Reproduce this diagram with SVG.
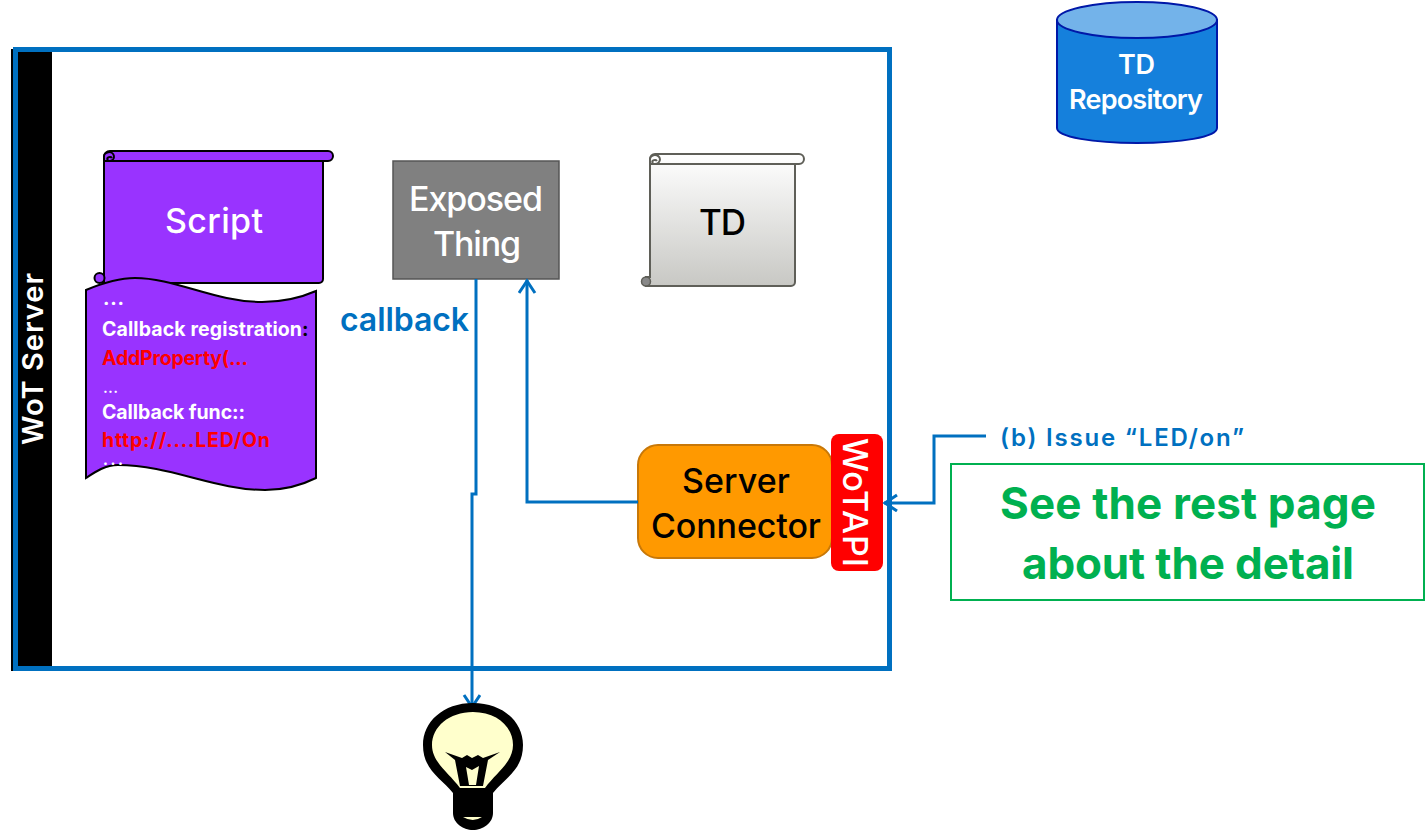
<svg xmlns="http://www.w3.org/2000/svg" width="1425" height="831" viewBox="0 0 1425 831">
<style>
text{font-family:Inter,"Noto Sans",sans-serif;font-weight:500}
.w{fill:#fff}.k{fill:#000}.b{fill:#0070c0}.r{fill:#f00}.g{fill:#00b050}
.s{font-size:19.500px;font-weight:700}
.conn{fill:none;stroke:#0070c0;stroke-width:3}
</style>
<defs>
<linearGradient id="td" x1="0" y1="0" x2="0" y2="1"><stop offset="0" stop-color="#fff"/><stop offset="1" stop-color="#c8c8c4"/></linearGradient>
<marker id="a" markerUnits="userSpaceOnUse" markerWidth="22" markerHeight="22" refX="16" refY="9" orient="auto"><path d="M3 1L15 9L3 17" fill="none" stroke="#0070c0" stroke-width="3"/></marker>
</defs>
<g id="server">
<rect x="11" y="49" width="41" height="622" fill="#000"/>
<rect x="15.500" y="49.500" width="874" height="619" fill="none" stroke="#0070c0" stroke-width="5"/>
<rect x="18" y="52" width="34" height="614" fill="#000"/>
<text class="w" transform="translate(43 445) rotate(-90)" font-size="29" style="font-weight:600" textLength="172">WoT Server</text>
</g>
<g id="repository">
<path d="M1057 20V128C1057 137 1093 143 1137 143S1217 137 1217 128V20Z" fill="#1580dc" stroke="#0018a8" stroke-width="2"/>
<ellipse cx="1137" cy="20" rx="80" ry="18" fill="#73b3ea" stroke="#0018a8" stroke-width="2"/>
<text class="w" x="1118" y="74" font-size="27" style="font-weight:600" textLength="37">TD</text>
<text class="w" x="1069" y="109" font-size="27" style="font-weight:600" textLength="134">Repository</text>
</g>
<g id="script">
<path d="M104 157a6 6 0 0 1 6-6H328a5 5 0 0 1 0 10H323V279a4 4 0 0 1-4 4H102H104Z" fill="#9933ff" stroke="#000" stroke-width="2"/>
<path d="M104 161H328" fill="none" stroke="#000" stroke-width="2"/>
<path d="M104 157a5 4.500 0 1 1 6 4a2.500 2 0 1 1 2-3" fill="#9933ff" stroke="#000" stroke-width="2"/>
<circle cx="99.500" cy="278" r="5" fill="#9933ff" stroke="#000" stroke-width="2"/>
<text class="w" x="165" y="233" font-size="34" textLength="98">Script</text>
</g>
<g id="script-code">
<path d="M86 290C105 282 120 278 135 278C175 278 215 302 262 302C285 302 300 298 316 291V478C300 486 285 490 265 490C215 490 170 465 118 465C105 465 95 472 86 478Z" fill="#9933ff" stroke="#000" stroke-width="2"/>
<text class="w s" x="103" y="305" textLength="21">...</text>
<text class="w s" x="102" y="336" textLength="200">Callback registration</text><text class="k s" x="302" y="336">:</text>
<text class="r s" x="102" y="365" textLength="146">AddProperty(...</text>
<text class="w" x="103" y="393" font-size="16" textLength="15">...</text>
<text class="w s" x="102" y="419" textLength="143">Callback func::</text>
<text class="r s" x="102" y="447" textLength="168">http://....LED/On</text>
<text class="w" x="103" y="465" font-size="14" style="font-weight:800" textLength="20">...</text>
</g>
<g id="exposed-thing">
<rect x="393" y="161" width="166" height="118" fill="#808080" stroke="#555" stroke-width="1.500"/>
<text class="w" x="409" y="211" font-size="34" textLength="134">Exposed</text>
<text class="w" x="433" y="256" font-size="34" textLength="88">Thing</text>
</g>
<g id="td">
<path d="M650 159a5 5 0 0 1 5-5H799a5 5 0 0 1 0 10H795V282a4 4 0 0 1-4 4H646V277h4Z" fill="url(#td)" stroke="#5f5f58" stroke-width="2"/>
<path d="M650 164H799" fill="none" stroke="#5f5f58" stroke-width="2"/>
<path d="M650 160a5 4.500 0 1 1 5 4a2.500 2 0 1 1 2-3" fill="#fff" stroke="#5f5f58" stroke-width="2"/>
<circle cx="646" cy="281.500" r="4.500" fill="#888" stroke="#5f5f58" stroke-width="1.500"/>
<text class="k" x="699" y="235" font-size="35" textLength="47">TD</text>
</g>
<g id="server-connector">
<rect x="638" y="445" width="194" height="113" rx="20" fill="#ff9900" stroke="#c87808" stroke-width="2"/>
<text class="k" x="682" y="493" font-size="34" textLength="108">Server</text>
<text class="k" x="651" y="538" font-size="34" textLength="170">Connector</text>
</g>
<g id="wot-api">
<rect x="831" y="434" width="52" height="137" rx="8" fill="#f00"/>
<text class="w" transform="translate(843 438) rotate(90)" font-size="34" textLength="129">WoTAPI</text>
</g>
<g id="connectors">
<path class="conn" d="M476 279V494H472V708" marker-end="url(#a)"/>
<path class="conn" d="M638 502H527V280" marker-end="url(#a)"/>
<path class="conn" d="M986 436H934V503H884" marker-end="url(#a)"/>
</g>
<g id="labels">
<text class="b" x="340" y="331" font-size="32" style="font-weight:600" textLength="129">callback</text>
<text class="b" x="1000" y="446" font-size="24" style="font-weight:600" textLength="244">(b) Issue “LED/on”</text>
</g>
<g id="note">
<rect x="951" y="464" width="473" height="136" fill="#fff" stroke="#00b050" stroke-width="2"/>
<text class="g" x="1000" y="519" font-size="44" style="font-weight:700" textLength="376">See the rest page</text>
<text class="g" x="1022" y="579" font-size="44" style="font-weight:700" textLength="332">about the detail</text>
</g>
<g id="bulb">
<path d="M473 703C443 703 423 722 423 745C423 770 441 778 453 793V813C453 823 463 830 473 830S493 823 493 813V793C505 778 523 770 523 745C523 722 503 703 473 703Z" fill="#000"/>
<path d="M473 712C449 712 432 727 432 745C432 762 448 772 460 788H485C497 772 513 762 513 745C513 727 497 712 473 712Z" fill="#ffffcc"/>
<path d="M463 817H482Q473 823 463 817Z" fill="#ffffcc"/>
<path d="M445 752L462 758L467 755L472 758L478 755L483 758L500 752L488 760L483 786H460L455 760Z" fill="#000"/>
<path d="M466 767L472 770L479 766L476 785H469Z" fill="#ffffcc"/>
</g>
</svg>
